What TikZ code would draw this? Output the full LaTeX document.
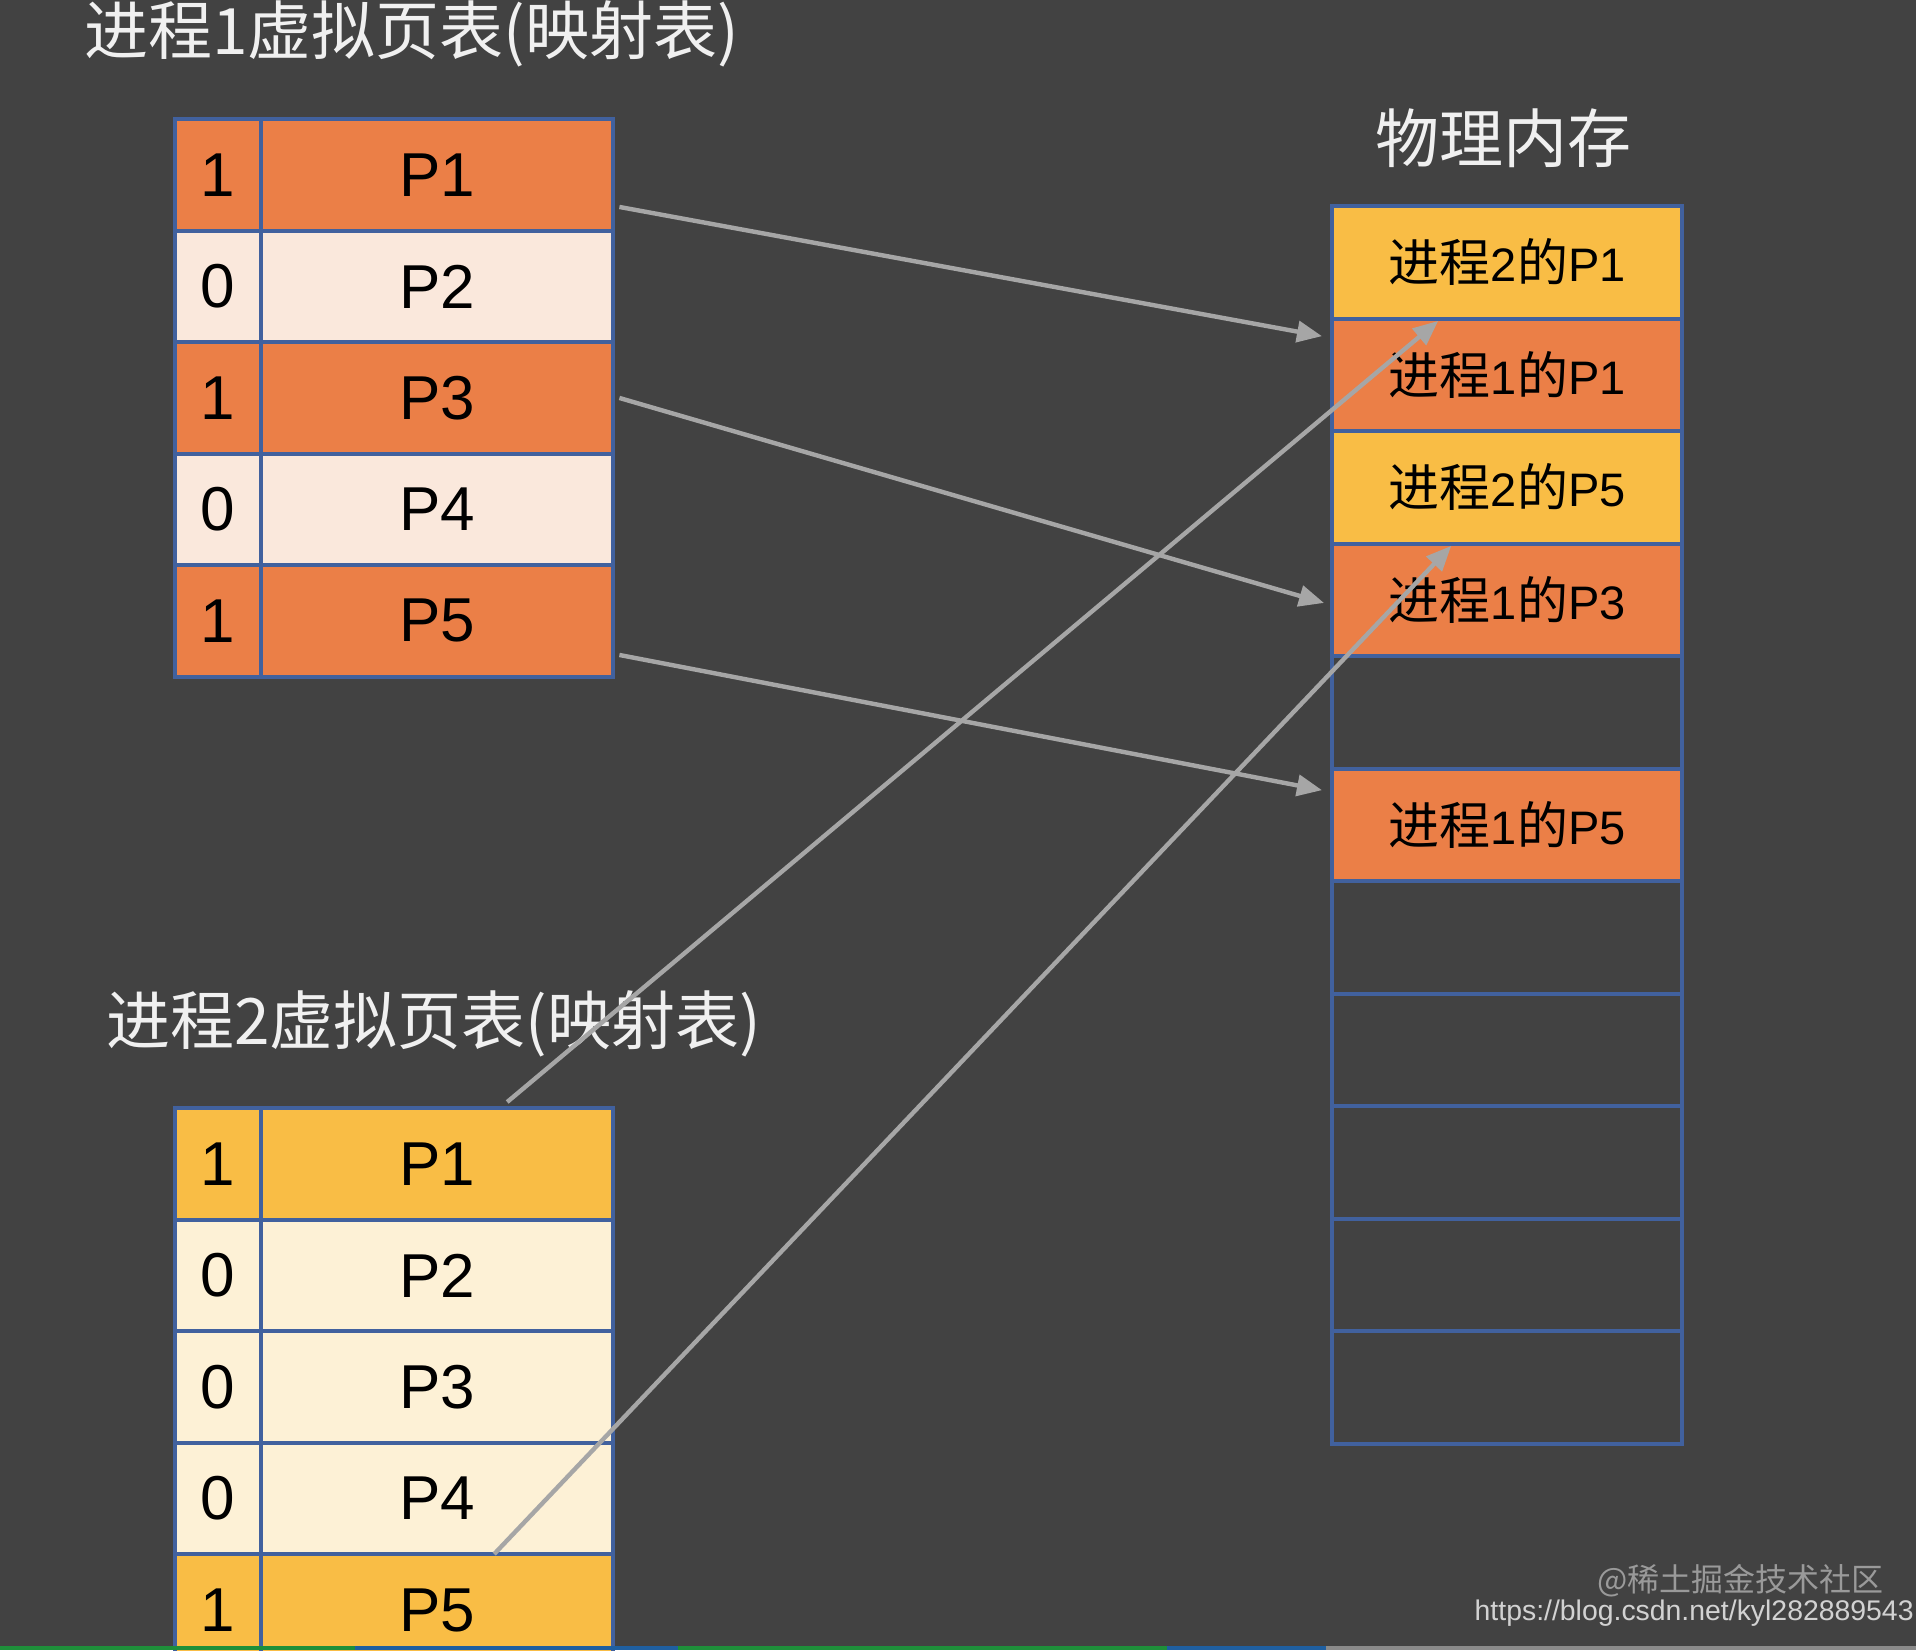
\documentclass[tikz,border=0pt]{standalone}
\usepackage{fontspec}
\setmainfont{Liberation Sans}
\newfontfamily\cjk{Noto Sans CJK SC}
\usetikzlibrary{arrows.meta,calc}
\definecolor{bg}{HTML}{424242}
\definecolor{orng}{HTML}{EB7F47}
\definecolor{peach}{HTML}{FAE8DC}
\definecolor{gold}{HTML}{F9BD45}
\definecolor{cream}{HTML}{FDF1D6}
\definecolor{bord}{HTML}{41619E}
\definecolor{arrowgray}{HTML}{A6A6A6}
\definecolor{titlewhite}{HTML}{F0F0F0}
\definecolor{wmgray}{HTML}{9A9A9A}
\definecolor{urlgray}{HTML}{D2D2D2}
\definecolor{sgreen}{HTML}{1E8F3A}
\definecolor{sblue}{HTML}{1F5FA0}
\definecolor{sgray}{HTML}{8A8A8A}
\newcommand\memlabel[2]{{\cjk\fontsize{25.5}{25.5}\selectfont 进程}#1{\cjk\fontsize{25.5}{25.5}\selectfont 的}#2}
\tikzset{
  cell/.style={draw=bord, line width=2.2pt, inner sep=0pt, anchor=north west,
    minimum height=55.75pt, text=black, font=\fontsize{31}{31}\selectfont},
  flagcell/.style={cell, minimum width=43pt},
  pagecell/.style={cell, minimum width=176pt},
  memcell/.style={draw=bord, line width=2.2pt, inner sep=0pt, anchor=north west,
    minimum height=56.25pt, minimum width=175pt, text=black,
    font=\fontsize{23.5}{23.5}\selectfont},
  title/.style={inner sep=0pt, text=titlewhite, font=\cjk\fontsize{32}{32}\selectfont},
  conn/.style={draw=arrowgray, line width=2.2pt, -{Triangle[length=12.5pt,width=10.5pt]}}
}
\begin{document}
\begin{tikzpicture}[x=0.5pt,y=-0.5pt]
\fill[bg] (0,0) rectangle (1916,1650);
\useasboundingbox (0,0) rectangle (1916,1650);
\clip (0,0) rectangle (1916,1650);

% titles
\node[title, anchor=west] (title1) at (84,34) {进程1虚拟页表(映射表)};
\node[title, anchor=west] (title2) at (106,1024) {进程2虚拟页表(映射表)};
\node[title] (memtitle) at (1503,138) {物理内存};

% process 1 page table
\foreach \i/\b/\fc in {1/1/orng, 2/0/peach, 3/1/orng, 4/0/peach, 5/1/orng}{
  \node[flagcell, fill=\fc] (t1f\i) at (173,{117+111.5*(\i-1)}) {\b};
  \node[pagecell, fill=\fc] (t1p\i) at (259,{117+111.5*(\i-1)}) {P\i};
}

% process 2 page table
\foreach \i/\b/\fc in {1/1/gold, 2/0/cream, 3/0/cream, 4/0/cream, 5/1/gold}{
  \node[flagcell, fill=\fc] (t2f\i) at (173,{1106+111.5*(\i-1)}) {\b};
  \node[pagecell, fill=\fc] (t2p\i) at (259,{1106+111.5*(\i-1)}) {P\i};
}

% physical memory
\node[memcell, fill=gold] (m1) at (1330,204) {\memlabel{2}{P1}};
\node[memcell, fill=orng] (m2) at (1330,316.5) {\memlabel{1}{P1}};
\node[memcell, fill=gold] (m3) at (1330,429) {\memlabel{2}{P5}};
\node[memcell, fill=orng] (m4) at (1330,541.5) {\memlabel{1}{P3}};
\node[memcell] (m5) at (1330,654) {};
\node[memcell, fill=orng] (m6) at (1330,766.5) {\memlabel{1}{P5}};
\foreach \i in {7,...,11}{
  \node[memcell] (m\i) at (1330,{204+112.5*(\i-1)}) {};
}

% watermark
\node[anchor=east, inner sep=0pt, text=wmgray, font=\cjk\fontsize{16}{16}\selectfont] (wm1) at (1884,1581) {@稀土掘金技术社区};
\node[anchor=east, inner sep=0pt, text=urlgray, font=\fontsize{14.2}{14.2}\selectfont] (wm2) at (1914,1613) {https://blog.csdn.net/kyl282889543};

% bottom strip
\fill[sgreen] (0,1646) rectangle (355,1650);
\fill[sblue] (355,1646) rectangle (678,1650);
\fill[sgreen] (678,1646) rectangle (1167,1650);
\fill[sblue] (1167,1646) rectangle (1326,1650);
\fill[sgray] (1326,1646) rectangle (1916,1650);

% mappings
\draw[conn] ([xshift=2pt,yshift=-16pt]t1p1.east) -- ([xshift=-4pt,yshift=19.4pt]m2.west);
\draw[conn] ([xshift=2pt]t1p3.east) -- ([xshift=-3pt,yshift=-1.5pt]m4.west);
\draw[conn] ([xshift=2pt,yshift=-17pt]t1p5.east) -- ([xshift=-4pt,yshift=17.4pt]m6.west);
\draw[conn] ([xshift=35pt,yshift=2pt]t2p1.north) -- ([xshift=-34.5pt]m1.south);
\draw[conn] ([xshift=28.5pt,yshift=-1pt]t2p5.north) -- ([xshift=-28pt]m3.south);
\end{tikzpicture}
\end{document}
